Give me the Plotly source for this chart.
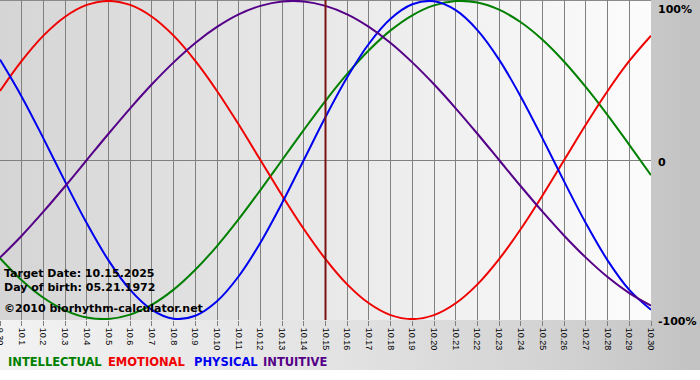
import base64
import plotly.graph_objects as go

# ---------------- data ----------------
dates = ["9.30", "10.1", "10.2", "10.3", "10.4", "10.5", "10.6", "10.7", "10.8", "10.9",
         "10.10", "10.11", "10.12", "10.13", "10.14", "10.15", "10.16", "10.17", "10.18",
         "10.19", "10.20", "10.21", "10.22", "10.23", "10.24", "10.25", "10.26", "10.27",
         "10.28", "10.29", "10.30"]

intellectual = [-0.618, -0.756, -0.866, -0.945, -0.990, -0.999, -0.972, -0.910, -0.815, -0.690,
                -0.541, -0.372, -0.189, 0.000, 0.189, 0.372, 0.541, 0.690, 0.815, 0.910,
                0.972, 0.999, 0.990, 0.945, 0.866, 0.756, 0.618, 0.458, 0.282, 0.095, -0.095]

emotional = [0.434, 0.623, 0.782, 0.901, 0.975, 1.000, 0.975, 0.901, 0.782, 0.623,
             0.434, 0.223, 0.000, -0.223, -0.434, -0.623, -0.782, -0.901, -0.975, -1.000,
             -0.975, -0.901, -0.782, -0.623, -0.434, -0.223, 0.000, 0.223, 0.434, 0.623, 0.782]

physical = [0.631, 0.398, 0.136, -0.136, -0.398, -0.631, -0.817, -0.942, -0.998, -0.979,
            -0.888, -0.731, -0.520, -0.270, 0.000, 0.270, 0.520, 0.731, 0.888, 0.979,
            0.998, 0.942, 0.817, 0.631, 0.398, 0.136, -0.136, -0.398, -0.631, -0.817, -0.942]

intuitive = [-0.614, -0.476, -0.325, -0.165, 0.000, 0.165, 0.325, 0.476, 0.614, 0.736,
             0.837, 0.916, 0.969, 0.997, 0.997, 0.969, 0.916, 0.837, 0.736, 0.614,
             0.476, 0.325, 0.165, 0.000, -0.165, -0.325, -0.476, -0.614, -0.736, -0.837, -0.916]

series_names = ["INTELLECTUAL", "EMOTIONAL", "PHYSICAL", "INTUITIVE"]
series_values = [intellectual, emotional, physical, intuitive]
series_colors = ["#008000", "#f00000", "#0000f0", "#550088"]

target_date = "10.15"
target_text = "Target Date: 10.15.2025"
birth_text = "Day of birth: 05.21.1972"
credit_text = "\u00a92010 biorhythm-calculator.net"

y_tick_vals = [1, 0, -1]
y_tick_text = ["100%", "0", "-100%"]

# ---------------- layout geometry ----------------
W, H = 700, 380
ML, MR, MT, MB = 0, 49, 0, 60
PW, PH = W - ML - MR, H - MT - MB


def px_x(p):
    return (p - ML) / PW


def px_y(p):
    return (MT + PH - p) / PH


def svg_gradient(w, h, stops):
    st = "".join(f'<stop offset="{o}" stop-color="{c}"/>' for o, c in stops)
    svg = (f'<svg xmlns="http://www.w3.org/2000/svg" width="{w}" height="{h}" '
           f'viewBox="0 0 {w} {h}" preserveAspectRatio="none">'
           f'<defs><linearGradient id="g" x1="0" y1="0" x2="1" y2="0">{st}</linearGradient></defs>'
           f'<rect x="0" y="0" width="{w}" height="{h}" fill="url(#g)"/></svg>')
    return "data:image/svg+xml;base64," + base64.b64encode(svg.encode()).decode()


outer_bg = svg_gradient(W, 370, [(0, "#f2f2f2"), (0.5, "#e2e2e2"), (0.8, "#d2d2d2"), (1, "#c2c2c2")])
plot_bg = svg_gradient(PW, PH, [(0, "#d5d5d5"), (0.5, "#e9e9e9"), (1, "#fcfcfc")])

x_idx = list(range(len(dates)))

fig = go.Figure()
for name, vals, col in zip(series_names, series_values, series_colors):
    fig.add_trace(go.Scatter(
        x=x_idx, y=vals, mode="lines", name=name,
        line=dict(color=col, width=2, shape="spline", smoothing=1.0),
        hoverinfo="skip", showlegend=False,
    ))

bold = dict(family="DejaVu Sans", size=11, color="#000000", weight="bold")

annotations = [
    dict(text=target_text, x=px_x(2), y=px_y(273), xanchor="left", yanchor="middle"),
    dict(text=birth_text, x=px_x(2), y=px_y(287.5), xanchor="left", yanchor="middle"),
    dict(text=credit_text, x=px_x(2), y=px_y(308), xanchor="left", yanchor="middle"),
]
for a in annotations:
    a.update(xref="paper", yref="paper", showarrow=False, font=bold)

legend_x = [6, 106, 192, 261]
for name, col, lx in zip(series_names, series_colors, legend_x):
    annotations.append(dict(text=name, x=px_x(lx), y=px_y(362), xref="paper", yref="paper",
                            xanchor="left", yanchor="middle", showarrow=False,
                            font=dict(family="DejaVu Sans", size=11.5, color=col, weight="bold")))

for v, t in zip(y_tick_vals, y_tick_text):
    if v == max(y_tick_vals):
        annotations.append(dict(text=t, x=px_x(656), y=v, xref="paper", yref="y",
                                xanchor="left", yanchor="top", showarrow=False, font=bold))
    else:
        annotations.append(dict(text=t, x=px_x(656), y=v, xref="paper", yref="y",
                                xanchor="left", yanchor="middle", yshift=-2,
                                showarrow=False, font=bold))

target_i = dates.index(target_date)

fig.update_layout(
    width=W, height=H,
    margin=dict(l=ML, r=MR, t=MT, b=MB, pad=0, autoexpand=False),
    paper_bgcolor="#ffffff",
    plot_bgcolor="rgba(0,0,0,0)",
    showlegend=False,
    images=[
        dict(source=outer_bg, xref="paper", yref="paper", x=px_x(0), y=px_y(0),
             sizex=W / PW, sizey=370 / PH, xanchor="left", yanchor="top",
             sizing="stretch", layer="below"),
        dict(source=plot_bg, xref="paper", yref="paper", x=0, y=1,
             sizex=1, sizey=1, xanchor="left", yanchor="top",
             sizing="stretch", layer="below"),
    ],
    shapes=[
        dict(type="line", xref="paper", yref="paper", x0=0, x1=1,
             y0=1 - 0.5 / PH, y1=1 - 0.5 / PH, line=dict(color="#8a8a8a", width=1), layer="below"),
        dict(type="line", xref="x", yref="paper", x0=target_i, x1=target_i, y0=0, y1=1,
             line=dict(color="#7a1414", width=2), layer="above"),
    ],
    annotations=annotations,
    xaxis=dict(
        range=[0, len(dates) - 1],
        tickmode="array", tickvals=x_idx, ticktext=dates,
        tickangle=90,
        tickfont=dict(family="Liberation Sans", size=9, color="#000000"),
        ticks="outside", ticklen=5, tickcolor="#808080", tickwidth=1,
        ticklabeloverflow="allow",
        showgrid=True, gridcolor="#808080", gridwidth=1,
        zeroline=False, showline=False, fixedrange=True, automargin=False,
    ),
    yaxis=dict(
        range=[-1.006, 1.006],
        showticklabels=False, ticks="", showgrid=False,
        zeroline=True, zerolinecolor="#808080", zerolinewidth=1,
        showline=False, fixedrange=True, automargin=False,
    ),
)

fig.write_html("out.html", config={"displayModeBar": False},
               post_script="document.body.style.margin='0px';document.body.style.padding='0px';")
